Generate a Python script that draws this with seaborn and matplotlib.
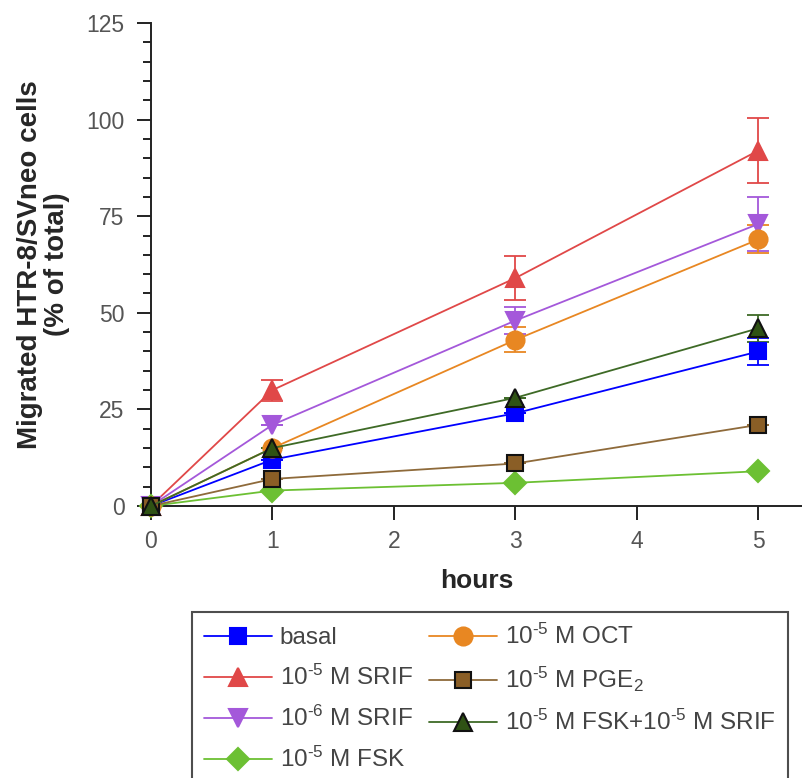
import matplotlib
matplotlib.use("Agg")
import matplotlib.pyplot as plt
import seaborn as sns
import pandas as pd

# Time points (hours)
hours = [0, 1, 3, 5]

# Migrated cells (% of total) per treatment, with SEM
basal = [0, 12, 24, 40]
basal_err = [0, 0, 0, 3.5]
srif5 = [0, 30, 59, 92]
srif5_err = [0, 2.7, 5.7, 8.3]
srif6 = [0, 21, 48, 73]
srif6_err = [0, 0, 3.5, 7]
fsk = [0, 4, 6, 9]
fsk_err = [0, 0, 0, 0]
oct_ = [0, 15, 43, 69]
oct_err = [0, 0, 3.2, 3.6]
pge2 = [0, 7, 11, 21]
pge2_err = [0, 0, 0, 0]
fsk_srif = [0, 15, 28, 46]
fsk_srif_err = [0, 0, 0, 3.5]

HY = "\u2010"  # hyphen used in the exponents
labels = [
    "basal",
    r"10$^{" + HY + "5}$ M SRIF",
    r"10$^{" + HY + "6}$ M SRIF",
    r"10$^{" + HY + "5}$ M FSK",
    r"10$^{" + HY + "5}$ M OCT",
    r"10$^{" + HY + "5}$ M PGE$_{2}$",
    r"10$^{" + HY + "5}$ M FSK+10$^{" + HY + "5}$ M SRIF",
]
values = [basal, srif5, srif6, fsk, oct_, pge2, fsk_srif]
errors = [basal_err, srif5_err, srif6_err, fsk_err, oct_err, pge2_err, fsk_srif_err]

# style: (line colour, face colour, edge colour, marker, marker size)
styles = [
    ("#0000FF", "#0000FF", "#0000FF", "s", 12),
    ("#E04848", "#E04848", "#E04848", "^", 13),
    ("#A458DA", "#A458DA", "#A458DA", "v", 13),
    ("#6CC033", "#6CC033", "#6CC033", "D", 11),
    ("#E88722", "#E88722", "#E88722", "o", 13),
    ("#8E6A3A", "#8A5E26", "#111111", "s", 12),
    ("#3E6A26", "#2F5214", "#111111", "^", 13),
]

sns.set_theme(style="ticks")
plt.rcParams["font.family"] = ["Liberation Sans", "DejaVu Sans"]
plt.rcParams["mathtext.fontset"] = "custom"
plt.rcParams["mathtext.rm"] = "Liberation Sans"
plt.rcParams["mathtext.sf"] = "Liberation Sans"
plt.rcParams["mathtext.it"] = "Liberation Sans"
plt.rcParams["mathtext.default"] = "regular"

fig = plt.figure(figsize=(8.03, 7.78), dpi=100)
ax = fig.add_axes([0.188, 1 - 506 / 778, 0.811, 483 / 778])

for lab, vals, errs, (lc, fc, ec, mk, ms) in zip(labels, values, errors, styles):
    df = pd.DataFrame({"hours": hours, "pct": vals})
    ax.errorbar(hours, vals, yerr=errs, fmt="none", ecolor=lc, elinewidth=1.3,
                capsize=8, capthick=1.3, zorder=2, clip_on=False)
    sns.lineplot(data=df, x="hours", y="pct", ax=ax, color=lc, label=lab,
                 marker=mk, markersize=ms, markerfacecolor=fc,
                 markeredgecolor=ec, markeredgewidth=1.5, linewidth=1.3,
                 clip_on=False, zorder=3)

ax.set_xlim(0, 5.36)
ax.set_ylim(0, 125)
ax.set_xticks([0, 1, 2, 3, 4, 5])
ax.set_yticks([0, 25, 50, 75, 100, 125])
ax.set_yticks(range(0, 126, 5), minor=True)
ax.tick_params(axis="both", which="major", length=10, width=1.4, color="#222222",
               labelsize=16.5, labelcolor="#555555")
ax.tick_params(axis="y", which="major", pad=9)
ax.tick_params(axis="x", which="major", pad=7)
ax.tick_params(axis="y", which="minor", length=6, width=1.4, color="#222222")
for side in ("top", "right"):
    ax.spines[side].set_visible(False)
for side in ("left", "bottom"):
    ax.spines[side].set_linewidth(1.4)
    ax.spines[side].set_color("#222222")

ax.set_xlabel("hours", fontsize=19, fontweight="bold", labelpad=12)
ax.set_ylabel("Migrated HTR-8/SVneo cells\n(% of total)", fontsize=20,
              fontweight="bold", labelpad=12, linespacing=1.05)

ax.get_legend().remove()
handles, labs = ax.get_legend_handles_labels()
leg = fig.legend(handles, labs, loc="upper left",
                 bbox_to_anchor=(192 / 803, 1 - 612 / 778), ncol=2,
                 fontsize=17.5, frameon=True, fancybox=False, edgecolor="#222222",
                 handlelength=2.8, handletextpad=0.3, columnspacing=0.7,
                 labelspacing=0.65, borderpad=0.5, borderaxespad=0)
leg.get_frame().set_linewidth(1.5)
for t in leg.get_texts():
    t.set_color("#444444")

fig.savefig("out.png", dpi=100)
